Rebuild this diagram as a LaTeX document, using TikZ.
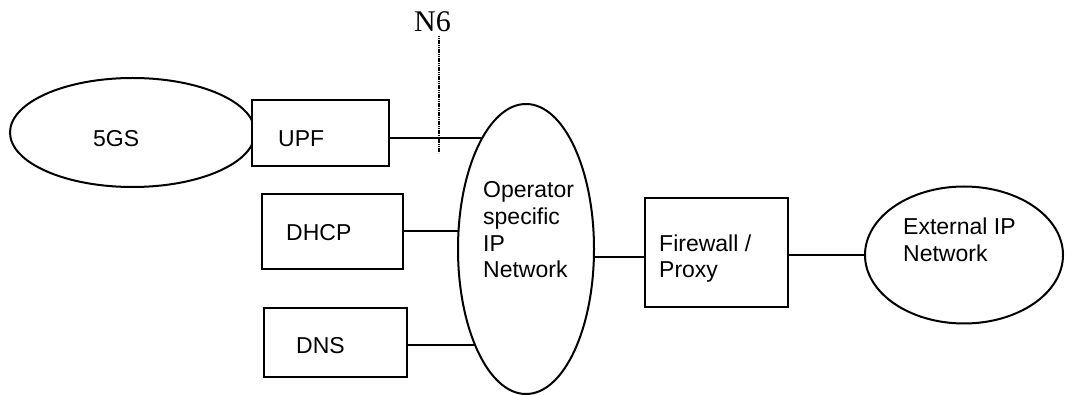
\documentclass[tikz,border=0pt]{standalone}
\usepackage{fontspec}
\setmainfont{Liberation Sans}
\newfontfamily\serifN{Liberation Serif}
\usetikzlibrary{shapes.geometric}
\begin{document}
\begin{tikzpicture}[x=1pt,y=-1pt,
  lw/.style={line width=2pt},
  boxnode/.style={draw,lw,rectangle,inner sep=0pt},
  ellnode/.style={draw,lw,ellipse,inner sep=0pt},
  conn/.style={lw},
  lbl/.style={font=\fontsize{23}{26.7}\selectfont,inner sep=0pt,anchor=base west}]
\useasboundingbox (0,0) rectangle (1066,395);
% shapes
\node[ellnode,minimum width=245pt,minimum height=109pt] (gs) at (132.5,132.5) {};
\node[boxnode,fill=white,minimum width=137pt,minimum height=66pt] (upf) at (320.5,133) {};
\node[boxnode,minimum width=141pt,minimum height=75pt] (dhcp) at (332.5,231.5) {};
\node[boxnode,minimum width=143pt,minimum height=69pt] (dns) at (335.5,342.5) {};
\node[ellnode,minimum width=136pt,minimum height=290pt] (op) at (526,249) {};
\node[boxnode,minimum width=143pt,minimum height=109pt] (fw) at (716.5,252.5) {};
\node[ellnode,minimum width=198pt,minimum height=137pt] (ext) at (964,255) {};
% boundary points on the operator ellipse
\coordinate (opU) at (482,138);
\coordinate (opH) at (458.5,231);
\coordinate (opD) at (475,345);
\coordinate (opF) at (594,257);
% connectors
\draw[conn] (upf.east |- opU) -- (opU);
\draw[conn] (dhcp.east |- opH) -- (opH);
\draw[conn] (dns.east |- opD) -- (opD);
\draw[conn] (opF) -- (fw.west |- opF);
\draw[conn] (fw.east |- ext.west) -- (ext.west);
% N6 reference line
\coordinate (n6top) at (439,36);
\coordinate (n6bot) at (439,153);
\draw[line width=2pt,dash pattern=on 1.2pt off 0.6pt] (n6top) -- (n6bot);
\node[inner sep=0pt,anchor=base,font=\fontsize{30}{34}\serifN] (n6) at (432.5,32) {N6};
% labels
\node[lbl] (gsT) at (93,147) {5GS};
\node[lbl] (upfT) at (278,147) {UPF};
\node[lbl] (dhcpT) at (286,241) {DHCP};
\node[lbl] (dnsT) at (296,354) {DNS};
\node[lbl] (opT1) at (483,198) {Operator};
\node[lbl] (opT2) at (483,225) {specific};
\node[lbl] (opT3) at (483,252) {IP};
\node[lbl] (opT4) at (483,278) {Network};
\node[lbl] (fwT1) at (659,252) {Firewall /};
\node[lbl] (fwT2) at (659,278) {Proxy};
\node[lbl] (extT1) at (903,235) {External IP};
\node[lbl] (extT2) at (903,262) {Network};
\end{tikzpicture}
\end{document}
